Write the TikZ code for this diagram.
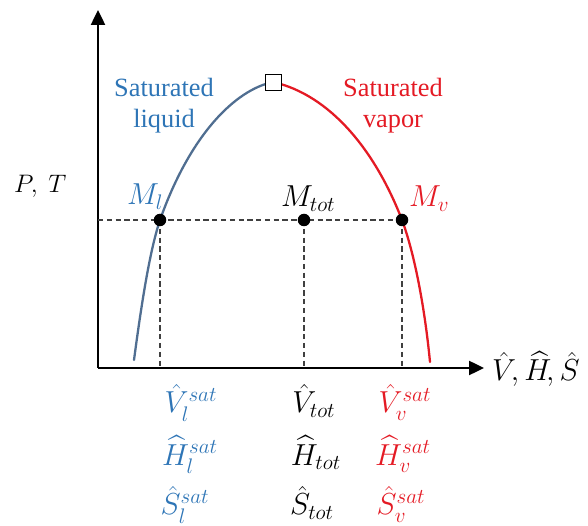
\documentclass[tikz,border=0pt]{standalone}
\usepackage{amsmath}
\usepackage{fontspec}
\setmainfont{Liberation Serif}
\usetikzlibrary{arrows.meta, positioning}
\definecolor{liqCol}{RGB}{46,117,182}
\definecolor{liqLine}{RGB}{80,110,145}
\definecolor{vapCol}{RGB}{228,26,36}
\tikzset{
    axis/.style={line width=1.4pt, -{Triangle[length=3mm, width=2.8mm]}},
    guide/.style={black!75, line width=0.6pt, dash pattern=on 3pt off 2pt},
    dome/.style={line width=1.3pt, line cap=round},
    state/.style={circle, fill=black, inner sep=0pt, minimum size=2.5mm},
    crit/.style={draw, fill=white, thin, inner sep=0pt, minimum size=3.2mm},
    lbl/.style={font=\fontsize{15}{17.5}\selectfont, inner sep=1pt},
    mlbl/.style={font=\fontsize{17.5}{20}\selectfont, inner sep=1pt},
    common settings/.style={x=0.02cm, y=-0.02cm}
}

\begin{document}
\begin{tikzpicture}[common settings]

    % Frame (pixel grid of the sketch)
    \useasboundingbox (0,0) rectangle (588,526);
    \def\yline{220}    % height of the two-phase line
    \def\ybase{368}    % height of the horizontal axis

    % 1. Axes
    \coordinate (origin) at (98,\ybase);
    \coordinate (ytip) at (98,10);
    \coordinate (xtip) at (484,\ybase);
    \draw[axis] (origin) -- (ytip);
    \draw[axis] (origin) -- (xtip);
    \node[mlbl, anchor=base west] (xlab) at (490,381) {$\hat{V}\!,\widehat{H}\!,\hat{S}$};
    \node[lbl, anchor=base west] (ylab) at (12,193) {$P,\ T$};

    % 2. Points on the dome
    \coordinate (cp) at (273,82);
    \coordinate (pl) at (160,\yline);
    \coordinate (pt) at (304,\yline);
    \coordinate (pv) at (402,\yline);
    \coordinate (lfoot) at (160,\ybase);
    \coordinate (tfoot) at (304,\ybase);
    \coordinate (vfoot) at (402,\ybase);
    \coordinate (ystart) at (98,\yline);

    % Guide lines
    \draw[guide] (ystart) -- (pv);
    \draw[guide] (pl) -- (lfoot);
    \draw[guide] (pt) -- (tfoot);
    \draw[guide] (pv) -- (vfoot);

    % 3. Saturation dome
    \draw[dome, liqLine] (134,360) .. controls (142,300) and (150,250) .. (pl)
        .. controls (190,135) and (235,90) .. (cp);
    \draw[dome, vapCol] (cp) .. controls (330,95) and (375,150) .. (pv)
        .. controls (415,255) and (425,310) .. (430,362);

    \node[lbl, liqCol, align=center] (liqtxt) at (164,106) {Saturated\\liquid};
    \node[lbl, vapCol, align=center] (vaptxt) at (393,106) {Saturated\\vapor};

    % 4. States
    \node[crit] (crit) at (cp) {};
    \node[state] (ml) at (pl) {};
    \node[state] (mt) at (pt) {};
    \node[state] (mv) at (pv) {};
    \node[mlbl, liqCol, anchor=base west] (mllab) at (125,205) {$M_l$};
    \node[mlbl, anchor=base west] (mtlab) at (279,207) {$M_{tot}$};
    \node[mlbl, vapCol, anchor=base west] (mvlab) at (407,207) {$M_v$};

    % 5. Property values under the axis
    \node[mlbl, liqCol, anchor=base] (vl) at (191,413) {$\hat{V}_l^{sat}$};
    \node[mlbl, liqCol, anchor=base] (hl) at (190,465) {$\widehat{H}_l^{sat}$};
    \node[mlbl, liqCol, anchor=base] (sl) at (185,515) {$\hat{S}_l^{sat}$};
    \node[mlbl, anchor=base] (vt) at (314,413) {$\hat{V}_{tot}$};
    \node[mlbl, anchor=base] (ht) at (316,465) {$\widehat{H}_{tot}$};
    \node[mlbl, anchor=base] (st) at (312,515) {$\hat{S}_{tot}$};
    \node[mlbl, vapCol, anchor=base] (vv) at (405,413) {$\hat{V}_v^{sat}$};
    \node[mlbl, vapCol, anchor=base] (hv) at (403,465) {$\widehat{H}_v^{sat}$};
    \node[mlbl, vapCol, anchor=base] (sv) at (401,515) {$\hat{S}_v^{sat}$};

\end{tikzpicture}
\end{document}
